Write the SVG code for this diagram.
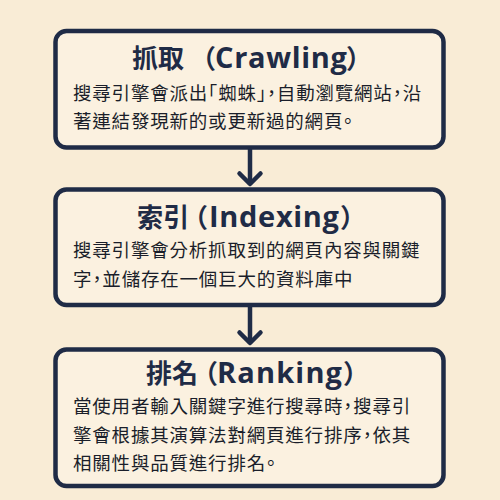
<svg xmlns="http://www.w3.org/2000/svg" width="500" height="500" viewBox="0 0 500 500">
  <style>
    .box { fill: #FBF1E0; stroke: #1F2B46; stroke-width: 4.5; }
    .title { font-family: "Noto Sans CJK TC", "Noto Sans CJK SC", sans-serif; font-size: 26px; font-weight: 700; fill: #1F2B46; font-feature-settings: "halt" 1; }
    .lat { font-family: "Open Sans", "Noto Sans", sans-serif; font-size: 29px; font-weight: 700; }
    .body { font-family: "Noto Sans CJK TC", "Noto Sans CJK SC", sans-serif; font-size: 18.5px; font-weight: 400; fill: #1A1E2A; letter-spacing: 0.8px; font-feature-settings: "halt" 1; }
    .conn { stroke: #1F2B46; stroke-width: 4.5; fill: none; }
  </style>
  <defs>
    <marker id="arrow" viewBox="-15 -15 30 30" refX="0" refY="0" markerWidth="30" markerHeight="30" markerUnits="userSpaceOnUse" orient="auto">
      <path d="M-10.5,-10.5 L0,0 L-10.5,10.5" fill="none" stroke="#1F2B46" stroke-width="4.5" stroke-linecap="round" stroke-linejoin="round"/>
    </marker>
  </defs>
  <rect x="0" y="0" width="500" height="500" fill="#F9ECD6"/>

  <g id="connectors">
    <line class="conn" x1="250" y1="149" x2="250" y2="184" marker-end="url(#arrow)"/>
    <line class="conn" x1="250" y1="307" x2="250" y2="343" marker-end="url(#arrow)"/>
  </g>

  <g id="crawling">
    <rect class="box" x="55.5" y="31" width="388" height="116.5" rx="11"/>
    <text class="title" x="132" y="68">抓取<tspan x="203">（</tspan><tspan class="lat" x="215" textLength="132">Crawling</tspan><tspan x="346">）</tspan></text>
    <text class="body" x="73" y="99.5">搜尋引擎會派出「蜘蛛」，自動瀏覽網站，沿</text>
    <text class="body" x="73" y="127.5">著連結發現新的或更新過的網頁。</text>
  </g>

  <g id="indexing">
    <rect class="box" x="55.5" y="189.5" width="388" height="115.5" rx="11"/>
    <text class="title" x="137" y="226.5">索引<tspan x="195">（</tspan><tspan class="lat" x="209" textLength="130">Indexing</tspan><tspan x="340">）</tspan></text>
    <text class="body" x="73" y="257">搜尋引擎會分析抓取到的網頁內容與關鍵</text>
    <text class="body" x="73" y="286">字，並儲存在一個巨大的資料庫中</text>
  </g>

  <g id="ranking">
    <rect class="box" x="55.5" y="349.5" width="388" height="136.5" rx="11"/>
    <text class="title" x="146" y="382.5">排名<tspan x="205">（</tspan><tspan class="lat" x="217" textLength="125">Ranking</tspan><tspan x="343">）</tspan></text>
    <text class="body" x="73" y="413">當使用者輸入關鍵字進行搜尋時，搜尋引</text>
    <text class="body" x="73" y="442">擎會根據其演算法對網頁進行排序，依其</text>
    <text class="body" x="73" y="470">相關性與品質進行排名。</text>
  </g>
</svg>
